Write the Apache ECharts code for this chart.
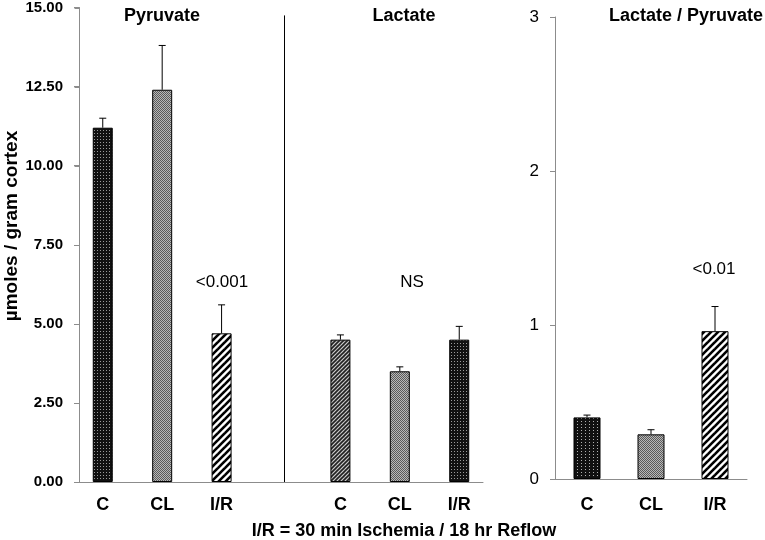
<!DOCTYPE html>
<html>
<head>
<meta charset="utf-8">
<script src="https://cdn.jsdelivr.net/npm/echarts@6/dist/echarts.min.js"></script>
<style>html,body{margin:0;padding:0;background:#fff}#c{width:765px;height:540px}</style>
</head>
<body>
<div id="c"></div>
<script>
// ---- data ----
const categories = ['C', 'CL', 'I/R'];
const pyruvate = [11.2, 12.4, 4.7];
const pyruvateErr = [0.3, 1.4, 0.9];
const lactate = [4.5, 3.5, 4.5];
const lactateErr = [0.15, 0.14, 0.42];
const ratio = [0.40, 0.29, 0.96];
const ratioErr = [0.015, 0.03, 0.16];
const leftTicks = [0, 2.5, 5, 7.5, 10, 12.5, 15];
const rightTicks = [0, 1, 2, 3];
const panelTitles = ['Pyruvate', 'Lactate', 'Lactate / Pyruvate'];
const pLabels = ['<0.001', 'NS', '<0.01'];
const yTitle = 'µmoles / gram cortex';
const xTitle = 'I/R = 30 min Ischemia / 18 hr Reflow';

// ---- layout helpers (slot positions on left panel) ----
const pad = 0.4;
const slotPos = (k) => k + pad;
const pyrSlots = [0, 1, 2], lacSlots = [4, 5, 6], dividerSlot = 3.05;

// ---- patterns ----
function mk(w, h, draw) {
  const c = document.createElement('canvas'); c.width = w; c.height = h;
  const g = c.getContext('2d'); draw(g, w, h); return { image: c, repeat: 'repeat' };
}
const dots = mk(3, 3, (g) => { g.fillStyle = '#111'; g.fillRect(0, 0, 3, 3); g.fillStyle = '#9a9a9a'; g.fillRect(1, 1, 1, 1); });
const dots2 = mk(4, 3, (g) => { g.fillStyle = '#111'; g.fillRect(0, 0, 4, 3); g.fillStyle = '#b0b0b0'; g.fillRect(1, 1, 1, 1); });
const check = mk(2, 2, (g) => { g.fillStyle = '#b8b8b8'; g.fillRect(0, 0, 2, 2); g.fillStyle = '#5a5a5a'; g.fillRect(0, 0, 1, 1); g.fillRect(1, 1, 1, 1); });
function hatchPat(p, lw, bg, fg) {
  return mk(p, p, (g) => {
    g.fillStyle = bg; g.fillRect(0, 0, p, p);
    g.strokeStyle = fg; g.lineWidth = lw;
    for (let k = -1; k <= 1; k++) {
      g.beginPath(); g.moveTo(k * p - 1, p + 1); g.lineTo(k * p + p + 1, -1); g.stroke();
    }
  });
}
const hatch = hatchPat(7, 2.6, '#fff', '#000');
const fineHatch = hatchPat(4, 1.7, '#d0d0d0', '#222');

const pyrFill = [dots, check, hatch];
const lacFill = [fineHatch, check, dots];
const ratFill = [dots2, check, hatch];

const F = 'Liberation Sans, Arial, sans-serif';
const axisGray = '#8c8c8c';

const leftBars = [];
pyruvate.forEach((v, i) => leftBars.push({ value: [slotPos(pyrSlots[i]), v], itemStyle: { color: pyrFill[i] } }));
lactate.forEach((v, i) => leftBars.push({ value: [slotPos(lacSlots[i]), v], itemStyle: { color: lacFill[i] } }));
const leftErr = [];
pyruvate.forEach((v, i) => leftErr.push([slotPos(pyrSlots[i]), v, pyruvateErr[i]]));
lactate.forEach((v, i) => leftErr.push([slotPos(lacSlots[i]), v, lactateErr[i]]));
const rightBars = ratio.map((v, i) => ({ value: v, itemStyle: { color: ratFill[i] } }));
const rightErr = ratio.map((v, i) => [i, v, ratioErr[i]]);
const labelVals = pyrSlots.concat(lacSlots).map(slotPos);

function errRender(params, api) {
  const x = api.value(0), y = api.value(1), e = api.value(2);
  const p0 = api.coord([x, y]); const p1 = api.coord([x, y + e]);
  const st = { stroke: '#000', lineWidth: 1 };
  return { type: 'group', children: [
    { type: 'line', shape: { x1: p0[0], y1: p0[1], x2: p1[0], y2: p1[1] }, style: st },
    { type: 'line', shape: { x1: p1[0] - 3.5, y1: p1[1], x2: p1[0] + 3.5, y2: p1[1] }, style: st }
  ]};
}

const textGraphics = [
  { id: 't0', type: 'text', x: 162, y: 16, style: { text: panelTitles[0], font: 'bold 18px ' + F, fill: '#000', textAlign: 'center', textVerticalAlign: 'middle' } },
  { id: 't1', type: 'text', x: 404, y: 16, style: { text: panelTitles[1], font: 'bold 18px ' + F, fill: '#000', textAlign: 'center', textVerticalAlign: 'middle' } },
  { id: 't2', type: 'text', x: 686, y: 16, style: { text: panelTitles[2], font: 'bold 18px ' + F, fill: '#000', textAlign: 'center', textVerticalAlign: 'middle' } },
  { id: 'p0', type: 'text', x: 222, y: 282, style: { text: pLabels[0], font: '17px ' + F, fill: '#000', textAlign: 'center', textVerticalAlign: 'middle' } },
  { id: 'p1', type: 'text', x: 412, y: 282, style: { text: pLabels[1], font: '17px ' + F, fill: '#000', textAlign: 'center', textVerticalAlign: 'middle' } },
  { id: 'p2', type: 'text', x: 714, y: 269, style: { text: pLabels[2], font: '17px ' + F, fill: '#000', textAlign: 'center', textVerticalAlign: 'middle' } },
  { id: 'yt', type: 'text', x: 12, y: 226, rotation: Math.PI / 2, style: { text: yTitle, font: 'bold 19px ' + F, fill: '#000', textAlign: 'center', textVerticalAlign: 'middle' } },
  { id: 'xt', type: 'text', x: 404, y: 531, style: { text: xTitle, font: 'bold 18px ' + F, fill: '#000', textAlign: 'center', textVerticalAlign: 'middle' } }
];

const chart = echarts.init(document.getElementById('c'), null, { renderer: 'canvas' });
chart.setOption({
  animation: false,
  backgroundColor: '#fff',
  grid: [
    { left: 79, right: 282, top: 7, bottom: 58 },
    { left: 555, right: 18, top: 17, bottom: 61 }
  ],
  xAxis: [
    { gridIndex: 0, type: 'value', min: 0, max: 6 + 2 * pad,
      axisLine: { show: true, lineStyle: { color: axisGray } }, axisTick: { show: false }, splitLine: { show: false },
      axisLabel: { customValues: labelVals, margin: 14,
        formatter: (v) => categories[Math.round(v - pad) % 4] || '',
        fontFamily: F, fontWeight: 'bold', fontSize: 18, color: '#000' } },
    { gridIndex: 1, type: 'category', data: categories,
      axisLine: { show: true, lineStyle: { color: axisGray } }, axisTick: { show: false },
      axisLabel: { margin: 17, fontFamily: F, fontWeight: 'bold', fontSize: 18, color: '#000' } }
  ],
  yAxis: [
    { gridIndex: 0, type: 'value', min: 0, max: 15, interval: 2.5,
      axisLine: { show: true, lineStyle: { color: axisGray } },
      axisTick: { show: true, length: 5, lineStyle: { color: axisGray } }, splitLine: { show: false },
      axisLabel: { margin: 16, formatter: (v) => v.toFixed(2), fontFamily: F, fontWeight: 'bold', fontSize: 15, color: '#000' } },
    { gridIndex: 1, type: 'value', min: 0, max: 3, interval: 1,
      axisLine: { show: true, lineStyle: { color: axisGray } },
      axisTick: { show: true, length: 5, lineStyle: { color: axisGray } }, splitLine: { show: false },
      axisLabel: { margin: 16, fontFamily: F, fontSize: 17, color: '#000' } }
  ],
  series: [
    { type: 'bar', xAxisIndex: 0, yAxisIndex: 0, barWidth: 20, data: leftBars,
      itemStyle: { borderColor: '#000', borderWidth: 1 },
      markLine: { silent: true, symbol: 'none', label: { show: false },
        lineStyle: { color: '#000', width: 1, type: 'solid' },
        data: [[{ coord: [slotPos(dividerSlot), 0] }, { coord: [slotPos(dividerSlot), 14.75] }]] } },
    { type: 'custom', xAxisIndex: 0, yAxisIndex: 0, renderItem: errRender, data: leftErr, z: 5 },
    { type: 'bar', xAxisIndex: 1, yAxisIndex: 1, barWidth: 27, data: rightBars,
      itemStyle: { borderColor: '#000', borderWidth: 1 } },
    { type: 'custom', xAxisIndex: 1, yAxisIndex: 1, renderItem: errRender, data: rightErr, z: 5 }
  ],
  graphic: textGraphics
});

// left y-axis line and ticks, positioned through the chart's own scale, on a top layer
const axisGraphics = [];
const base = chart.convertToPixel({ gridIndex: 0 }, [0, leftTicks[0]]);
const topP = chart.convertToPixel({ gridIndex: 0 }, [0, leftTicks[leftTicks.length - 1]]);
const ax = Math.round(base[0]) + 0.5;
axisGraphics.push({ id: 'yl', type: 'line', zlevel: 1, silent: true,
  shape: { x1: ax, y1: Math.round(base[1]) + 0.5, x2: ax, y2: Math.round(topP[1]) + 0.5 },
  style: { stroke: axisGray, lineWidth: 1 } });
leftTicks.forEach((t, i) => {
  const p = chart.convertToPixel({ gridIndex: 0 }, [0, t]);
  const y = Math.round(p[1]) + 0.5;
  axisGraphics.push({ id: 'yk' + i, type: 'line', zlevel: 1, silent: true,
    shape: { x1: ax - 5, y1: y, x2: ax, y2: y }, style: { stroke: axisGray, lineWidth: 1 } });
});
chart.setOption({ graphic: textGraphics.concat(axisGraphics) });
</script>
</body>
</html>
